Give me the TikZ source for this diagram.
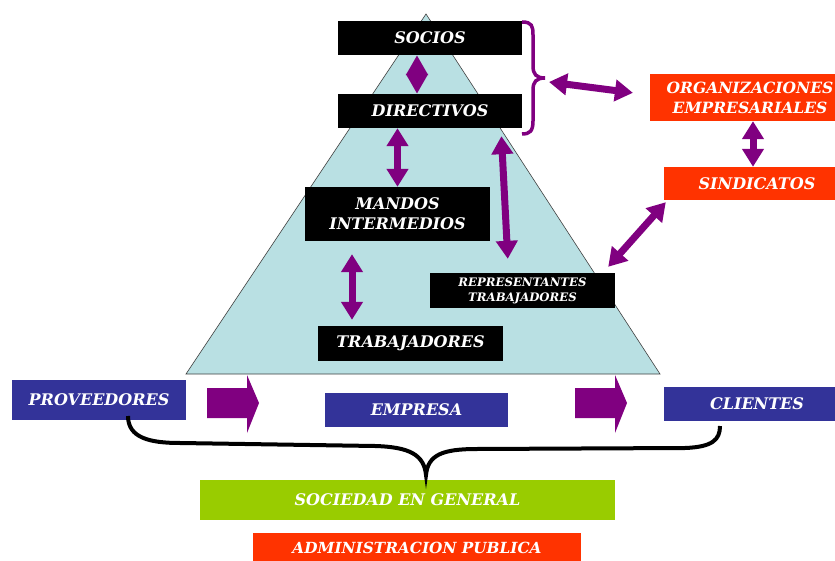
\documentclass[tikz,border=0pt]{standalone}
\usepackage{fontspec}
\setmainfont{DejaVu Serif}
\usetikzlibrary{arrows.meta}
\definecolor{pyramid}{HTML}{B9E0E3}
\definecolor{violet1}{HTML}{800080}
\definecolor{navy1}{HTML}{333399}
\definecolor{orange1}{HTML}{FF3300}
\definecolor{lime1}{HTML}{99CC00}
\tikzset{
  box/.style={inner sep=0pt, text=white, align=center,
    font=\fontsize{16}{20}\selectfont\bfseries\itshape},
  blackbox/.style={box, fill=black},
  redbox/.style={box, fill=orange1},
  bluebox/.style={box, fill=navy1},
  greenbox/.style={box, fill=lime1},
  dblarrow/.style={draw=violet1, line width=7pt,
    {Triangle[length=18pt,width=21pt]}-{Triangle[length=18pt,width=21pt]}},
}
\begin{document}
\begin{tikzpicture}[x=1pt,y=-1pt]
    \useasboundingbox (0,0) rectangle (835,561);
    \clip (0,0) rectangle (835,561);
    % piramide
    \draw[fill=pyramid, draw=black!75, line width=0.6pt] (426,14) -- (660,374) -- (186,374) -- cycle;
    \node[blackbox, minimum width=184pt, minimum height=34pt] (socios) at (430,38) {SOCIOS};
    \node[blackbox, minimum width=184pt, minimum height=34pt] (directivos) at (430,111) {DIRECTIVOS};
    \node[blackbox, minimum width=185pt, minimum height=54pt] (mandos) at (397.5,214) {MANDOS\\INTERMEDIOS};
    \node[blackbox, minimum width=185pt, minimum height=35pt, font=\fontsize{11.7}{15}\selectfont\bfseries\itshape] (repres) at (522.5,290.5) {REPRESENTANTES\\TRABAJADORES};
    \node[blackbox, minimum width=185pt, minimum height=35pt] (trabaj) at (410.5,343.5) {TRABAJADORES};
    % exterior
    \node[redbox, minimum width=200pt, minimum height=47pt, font=\fontsize{15.5}{20}\selectfont\bfseries\itshape] (orgemp) at (750,97.5) {ORGANIZACIONES\\EMPRESARIALES};
    \node[redbox, minimum width=186pt, minimum height=33pt] (sindic) at (757,183.5) {SINDICATOS};
    \node[bluebox, minimum width=174pt, minimum height=40pt] (provee) at (99,400) {PROVEEDORES};
    \node[bluebox, minimum width=183pt, minimum height=34pt] (empresa) at (416.5,410) {EMPRESA};
    \node[bluebox, minimum width=186pt, minimum height=34pt] (clientes) at (757,404) {CLIENTES};
    \node[greenbox, minimum width=415pt, minimum height=40pt] (sociedad) at (407.5,500) {SOCIEDAD EN GENERAL};
    \node[redbox, minimum width=328pt, minimum height=30pt, font=\fontsize{15.3}{20}\selectfont\bfseries\itshape] (admin) at (417,548) {ADMINISTRACION PUBLICA};
    % llaves
    \draw[violet1, line width=3.5pt] (522,22) .. controls (532,22) and (533,26) .. (533,35) -- (533,66)
        .. controls (533,74) and (536,78) .. (545,78) .. controls (536,78) and (533,82) .. (533,90)
        -- (533,121) .. controls (533,131) and (530,134) .. (522,134);
    \coordinate (bracetip) at (549,82);
    \draw[black, line width=4pt] (128,416) .. controls (128,438) and (150,443) .. (180,443) -- (375,446)
        .. controls (410,447) and (424,455) .. (426,475) .. controls (428,455) and (442,449) .. (477,449)
        -- (685,448) .. controls (712,447) and (720,440) .. (720,426);
    % flechas
    \draw[dblarrow, {Triangle[length=20pt,width=21pt]}-{Triangle[length=20pt,width=21pt]}] ([xshift=-13pt]socios.south) -- ([xshift=-13pt]directivos.north);
    \draw[dblarrow] (mandos.north |- directivos.south) -- (mandos.north);
    \draw[dblarrow, shorten <=8pt, shorten >=14pt] ([xshift=71pt]directivos.south) -- ([xshift=-14pt]repres.north);
    \draw[dblarrow, shorten <=13pt, shorten >=6pt] ([xshift=-45.5pt]mandos.south) -- ([xshift=-58.5pt]trabaj.north);
    \draw[dblarrow, shorten >=17pt] (bracetip) -- ([yshift=2.5pt]orgemp.west);
    \draw[dblarrow] ([xshift=3pt]orgemp.south) -- ([xshift=3pt]orgemp.south |- sindic.north);
    \draw[dblarrow] ([shift={(2pt,-2pt)}]sindic.south west) -- ([shift={(-7pt,6pt)}]repres.north east);
    \foreach \x in {207,575}
        \fill[violet1] (\x,388) -- ++(40,0) -- ++(0,-13) -- ++(12,28) -- ++(-12,30) -- ++(0,-15) -- ++(-40,0) -- cycle;
\end{tikzpicture}
\end{document}
